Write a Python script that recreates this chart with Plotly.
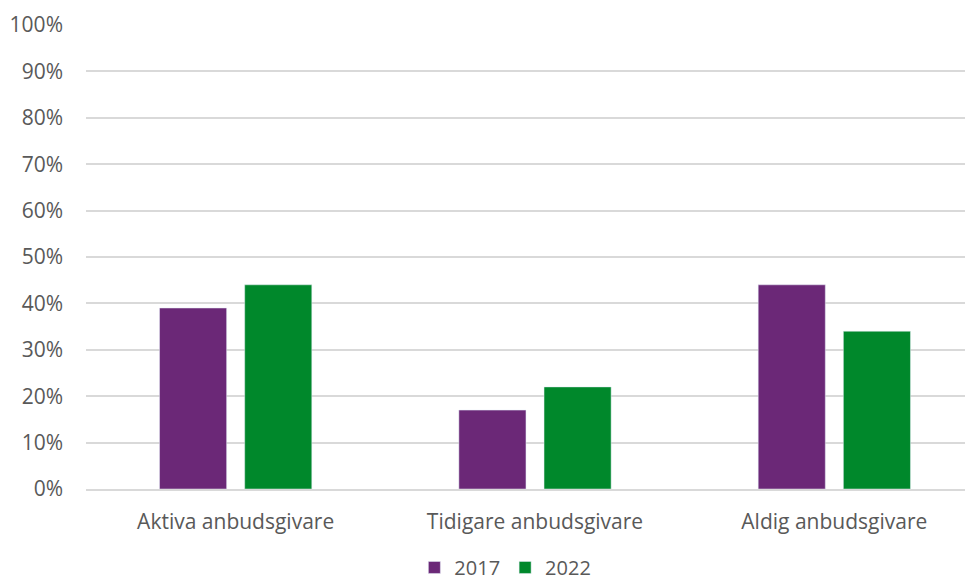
import plotly.graph_objects as go

categories = ['Aktiva anbudsgivare', 'Tidigare anbudsgivare', 'Aldig anbudsgivare']
values_2017 = [0.39, 0.17, 0.44]
values_2022 = [0.44, 0.22, 0.34]

PURPLE = '#6B2877'
GREEN = '#00882B'
FONT = 'Open Sans, Liberation Sans, sans-serif'

fig = go.Figure()
fig.add_trace(go.Bar(x=categories, y=values_2017, name='2017',
                     marker_color=PURPLE))
fig.add_trace(go.Bar(x=categories, y=values_2022, name='2022',
                     marker_color=GREEN))

# page body has an 8px margin, so the figure is shifted; it runs a bit past the window edges
fig.update_layout(
    width=976, height=586,
    margin=dict(l=78, r=0, t=15.5, b=104.5),
    paper_bgcolor='white', plot_bgcolor='white',
    barmode='group', bargap=0.431, bargroupgap=0.212,
    font=dict(family=FONT, size=21, color='#595959'),
    legend=dict(orientation='h', x=0.467, xanchor='center',
                yref='container', y=0.012, yanchor='bottom',
                font=dict(size=20), traceorder='normal', itemwidth=30),
    showlegend=True,
)
fig.update_yaxes(range=[0, 1.002], tickvals=[i / 10 for i in range(11)],
                 tickformat='.0%',
                 gridcolor='#D9D9D9', gridwidth=1.5, zeroline=False,
                 ticks='', ticklabelstandoff=22, automargin=False)
fig.update_xaxes(showline=True, linecolor='#D9D9D9', linewidth=1.5,
                 ticks='', ticklabelstandoff=13, automargin=False)

fig.write_html('out.html')
